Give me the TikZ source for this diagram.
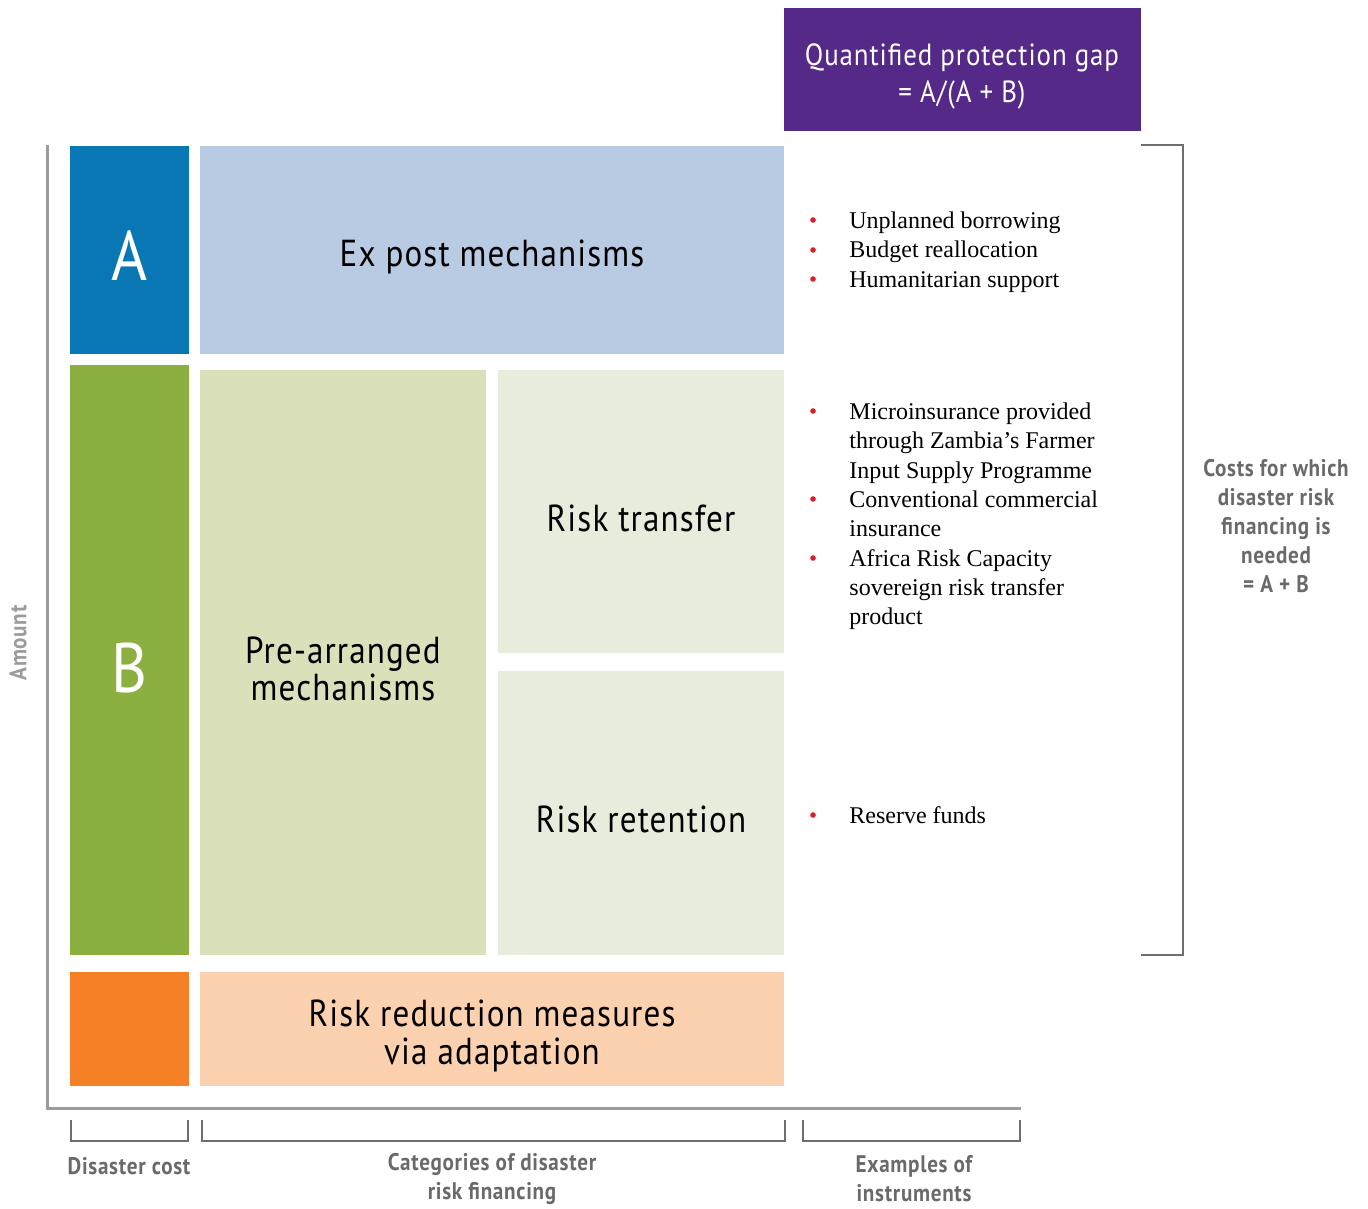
\documentclass[tikz,border=0pt]{standalone}
\usepackage{fontspec}
\setmainfont{Liberation Serif}
\newfontfamily\dinfont[FakeStretch=0.88,LetterSpace=3]{PT Sans}

\definecolor{costA}{RGB}{10, 119, 181}
\definecolor{costB}{RGB}{139, 176, 63}
\definecolor{costR}{RGB}{245, 128, 38}
\definecolor{expost}{RGB}{185, 202, 227}
\definecolor{prearr}{RGB}{218, 225, 186}
\definecolor{subcat}{RGB}{232, 236, 220}
\definecolor{reduce}{RGB}{251, 209, 176}
\definecolor{gappur}{RGB}{84, 41, 136}
\definecolor{bulred}{RGB}{220, 30, 40}
\definecolor{axgray}{RGB}{155, 155, 155}
\definecolor{brgray}{RGB}{110, 110, 110}
\definecolor{txgray}{RGB}{105, 106, 108}

\tikzset{
  catlabel/.style={font=\dinfont\fontsize{18.8}{18.8}\selectfont, align=center},
  bigletter/.style={font=\dinfont\fontsize{35}{35}\selectfont, text=white},
  note/.style={font=\dinfont\bfseries\fontsize{12}{14.4}\selectfont, text=txgray, align=center},
  item/.style={font=\fontsize{12}{14}\selectfont, inner sep=0pt, anchor=base west},
  brk/.style={brgray, line width=1.2pt},
}

\begin{document}
\begin{tikzpicture}[x=0.5pt, y=-0.5pt]
  \useasboundingbox (0,0) rectangle (1368,1208);

  % axes
  \draw[axgray, line width=1.5pt] (47,145) -- (47,1108) -- (1021,1108);
  \node[note, text=axgray, rotate=90] (amount) at (18,643) {Amount};

  % cost column
  \fill[costA] (70,146) rectangle (189,354);
  \fill[costB] (70,365) rectangle (189,955);
  \fill[costR] (70,972) rectangle (189,1086);
  \node[bigletter] (a) at (129.5,256) {A};
  \node[bigletter] (b) at (129.5,668) {B};

  % financing categories
  \fill[expost] (200,146) rectangle (784,354);
  \fill[prearr] (200,370) rectangle (486,955);
  \fill[subcat] (498,370) rectangle (784,653);
  \fill[subcat] (498,671) rectangle (784,955);
  \fill[reduce] (200,972) rectangle (784,1086);
  \node[catlabel] (ep) at (492,257) {Ex post mechanisms};
  \node[catlabel] (pa) at (343,669) {Pre-arranged\\mechanisms};
  \node[catlabel] (rt) at (641,518) {Risk transfer};
  \node[catlabel] (rr) at (641,819) {Risk retention};
  \node[catlabel] (rd) at (492,1036) {Risk reduction measures\\via adaptation};

  % protection gap
  \fill[gappur] (784,8) rectangle (1141,131);
  \node[catlabel, text=white, font=\dinfont\fontsize{15.3}{18.5}\selectfont] (gap) at (962,76)
    {Quantified protection gap\\= A/(A + B)};

  % instruments
  \foreach \y/\txt in {229/Unplanned borrowing, 258/Budget reallocation,
      288/Humanitarian support, 419/Microinsurance provided,
      448/through Zambia’s Farmer, 478/Input Supply Programme,
      507/Conventional commercial, 536/insurance,
      566/Africa Risk Capacity, 595/sovereign risk transfer,
      624/product, 823/Reserve funds}
    \node[item] at (849,\y) {\txt};
  \foreach \y in {220,250,279,411,499,558,815}
    \fill[bulred] (813,\y) circle[radius=1.4pt];

  % bracket for A + B
  \draw[brk] (1141,145) -- (1183,145) -- (1183,955) -- (1141,955);
  \node[note] (need) at (1276,526)
    {Costs for which\\disaster risk\\financing is\\needed\\= A + B};

  % brackets under the axis
  \foreach \l/\r in {71/188, 202/785, 803/1020}
    \draw[brk] (\l,1120) -- (\l,1141) -- (\r,1141) -- (\r,1120);
  \node[note] (dc) at (129,1166) {Disaster cost};
  \node[note] (cat) at (492,1179) {Categories of disaster\\risk financing};
  \node[note] (ex) at (914,1179) {Examples of\\instruments};
\end{tikzpicture}
\end{document}
